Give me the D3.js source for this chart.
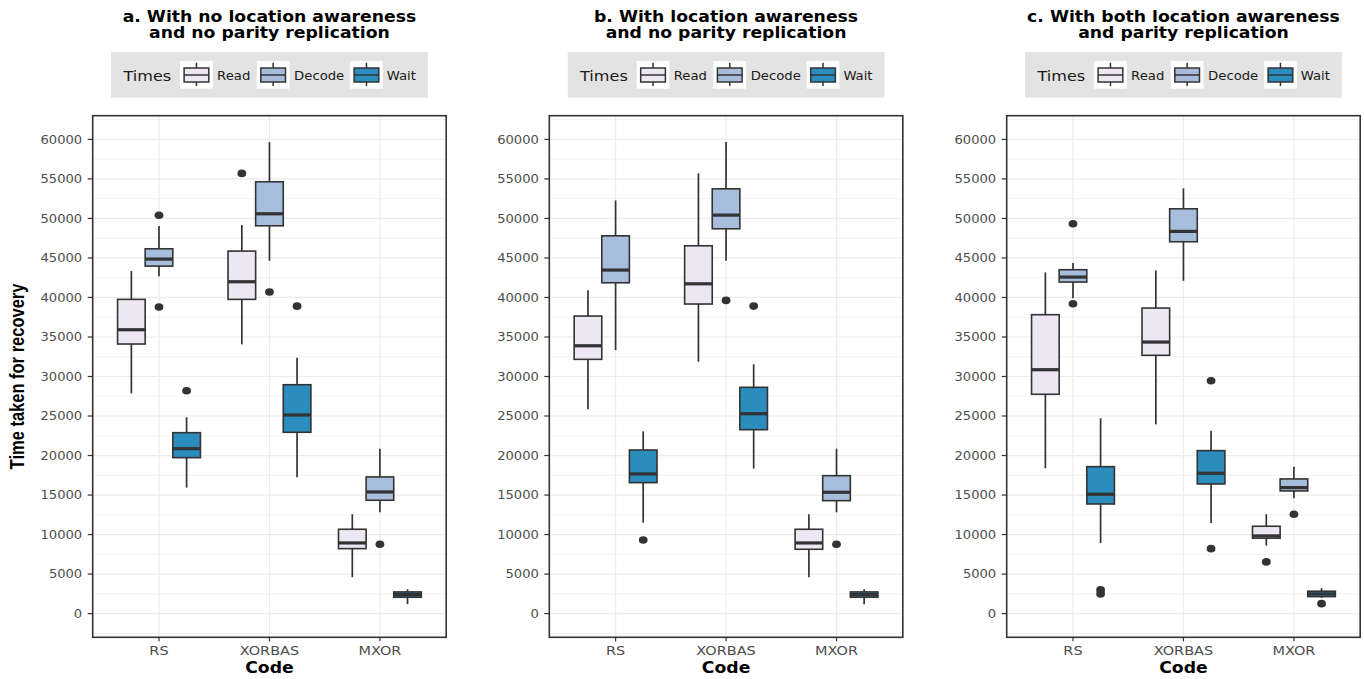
<!DOCTYPE html>
<html>
<head>
<meta charset="utf-8">
<script src="https://cdn.jsdelivr.net/npm/d3@7"></script>
<style>
  body { margin: 0; background: #fff; }
  text { font-family: "DejaVu Sans", sans-serif; }
</style>
</head>
<body>
<script>
// categories and series
var codes = ["RS", "XORBAS", "MXOR"];
var times = ["Read", "Decode", "Wait"];
var colors = ["#ece7f2", "#a6bddb", "#2b8cbe"];
var yTicks = [0, 5000, 10000, 15000, 20000, 25000, 30000, 35000, 40000, 45000, 50000, 55000, 60000];

var panelTitles = [
  ["a. With no location awareness", "and no parity replication"],
  ["b. With location awareness", "and no parity replication"],
  ["c. With both location awareness", "and parity replication"]
];

// box stats: [lower whisker, q1, median, q3, upper whisker]
// rows: RS Read, RS Decode, RS Wait, XORBAS Read, ..., MXOR Wait
var statsA = [
  [27870, 34110, 35920, 39760, 43340],
  [42670, 43970, 44860, 46160, 49030],
  [15940, 19730, 20870, 22890, 24840],
  [34070, 39760, 41990, 45870, 49160],
  [44650, 49070, 50590, 54640, 59660],
  [17250, 22940, 25130, 28960, 32380],
  [4600, 8220, 8940, 10670, 12570],
  [12820, 14340, 15390, 17290, 20870],
  [1190, 2070, 2400, 2740, 3080]
];
var statsB = [
  [25850, 32170, 33890, 37650, 40900],
  [33350, 41860, 43470, 47800, 52280],
  [11510, 16570, 17670, 20700, 23070],
  [31870, 39170, 41730, 46540, 55700],
  [44650, 48690, 50420, 53750, 59660],
  [18340, 23270, 25290, 28630, 31540],
  [4600, 8140, 8940, 10670, 12570],
  [12820, 14290, 15350, 17450, 20870],
  [1190, 2070, 2400, 2740, 3080]
];
var statsC = [
  [18390, 27750, 30860, 37820, 43170],
  [39890, 41950, 42580, 43510, 44350],
  [8940, 13870, 15100, 18590, 24710],
  [23950, 32680, 34360, 38660, 43430],
  [42110, 47050, 48360, 51220, 53800],
  [11470, 16400, 17760, 20620, 23150],
  [8600, 9540, 9830, 11050, 12570],
  [14590, 15520, 15940, 17040, 18590],
  [1990, 2150, 2490, 2830, 3210]
];

// outliers: [code index, time index, value]
var outliersA = [[0,1,50400],[0,1,38800],[0,2,28200],[1,0,55700],[1,1,40700],[1,2,38900],[2,1,8780]];
var outliersB = [[0,2,9320],[1,1,39630],[1,2,38910],[2,1,8780]];
var outliersC = [[0,1,49320],[0,1,39210],[0,2,3000],[0,2,2490],[1,2,29470],[1,2,8220],[2,0,6540],[2,1,12570],[2,2,1260]];

var allStats = [statsA, statsB, statsC];
var allOutliers = [outliersA, outliersB, outliersC];

var W = 1364, H = 679;
var panelLeft = [92.7, 549.3, 1006.7],
    panelW = 353.5,
    panelTop = 115.7,
    panelBottom = 637.3;
var SX = 1.15; // horizontal stretch of all text

var svg = d3.select("body").append("svg")
  .attr("width", W)
  .attr("height", H);

var y = d3.scaleLinear()
  .domain([-3000, 63000])
  .range([panelBottom, panelTop]);

function label(g, x, yy, str) {
  return g.append("text")
    .attr("transform", "translate(" + x + "," + yy + ") scale(" + SX + ",1)")
    .text(str);
}

// y axis title
svg.append("text")
  .attr("transform", "translate(24," + (panelTop + panelBottom) / 2 + ") rotate(-90) scale(1,1.2)")
  .attr("text-anchor", "middle")
  .style("font-family", "'Liberation Sans', sans-serif")
  .style("font-weight", "bold")
  .style("font-size", "16.5px")
  .attr("fill", "#000")
  .text("Time taken for recovery");

panelLeft.forEach(function(left, p) {
  var stats = allStats[p], outliers = allOutliers[p];
  var cx = left + panelW / 2;

  var x = d3.scaleLinear()
    .domain([0.4, 3.6])
    .range([left, left + panelW]);
  var bw = x(0.25) - x(0);

  var g = svg.append("g");

  // title
  panelTitles[p].forEach(function(line, i) {
    label(g, cx, 22 + i * 15.5, line)
      .attr("text-anchor", "middle")
      .style("font-weight", "bold")
      .style("font-size", "15px")
      .attr("fill", "#000");
  });

  // legend
  var legW = 316.7, legL = cx - legW / 2;
  var leg = g.append("g").attr("transform", "translate(" + legL + ",52)");
  leg.append("rect")
    .attr("width", legW).attr("height", 45.7)
    .attr("fill", "#e3e3e3");
  label(leg, 12.3, 28.7, "Times")
    .style("font-size", "14px")
    .attr("fill", "#1a1a1a");
  var keyX = [69, 145.7, 239], labX = [106, 183, 275.7];
  times.forEach(function(t, i) {
    var k = leg.append("g").attr("transform", "translate(" + keyX[i] + ",9)");
    k.append("rect").attr("width", 32.7).attr("height", 27.7).attr("fill", "#fff");
    k.append("line")
      .attr("x1", 16.35).attr("x2", 16.35).attr("y1", 1.7).attr("y2", 25)
      .attr("stroke", "#333").attr("stroke-width", 1.5);
    k.append("rect")
      .attr("x", 4).attr("y", 7).attr("width", 24.7).attr("height", 14)
      .attr("fill", colors[i]).attr("stroke", "#333").attr("stroke-width", 1.5);
    k.append("line")
      .attr("x1", 4).attr("x2", 28.7).attr("y1", 14).attr("y2", 14)
      .attr("stroke", "#333").attr("stroke-width", 1.5);
    label(leg, labX[i], 28.3, t)
      .style("font-size", "11.5px")
      .attr("fill", "#1a1a1a");
  });

  // grid
  var minor = d3.range(-2500, 63000, 5000);
  g.selectAll(".minor").data(minor).enter().append("line")
    .attr("x1", left).attr("x2", left + panelW)
    .attr("y1", function(d) { return y(d); })
    .attr("y2", function(d) { return y(d); })
    .attr("stroke", "#ebebeb").attr("stroke-width", 0.6);
  g.selectAll(".major").data(yTicks).enter().append("line")
    .attr("x1", left).attr("x2", left + panelW)
    .attr("y1", function(d) { return y(d); })
    .attr("y2", function(d) { return y(d); })
    .attr("stroke", "#ebebeb").attr("stroke-width", 1.2);
  g.selectAll(".vmajor").data(codes).enter().append("line")
    .attr("x1", function(d, i) { return x(i + 1); })
    .attr("x2", function(d, i) { return x(i + 1); })
    .attr("y1", panelTop).attr("y2", panelBottom)
    .attr("stroke", "#ebebeb").attr("stroke-width", 1.2);

  // boxes
  var boxes = [];
  stats.forEach(function(s, j) {
    boxes.push({ c: Math.floor(j / 3), t: j % 3, s: s });
  });
  var bg = g.selectAll(".box").data(boxes).enter().append("g");
  function bx(d) { return x(d.c + 1 + (d.t - 1) * 0.25); }
  bg.append("line")
    .attr("x1", bx).attr("x2", bx)
    .attr("y1", function(d) { return y(d.s[0]); })
    .attr("y2", function(d) { return y(d.s[4]); })
    .attr("stroke", "#333").attr("stroke-width", 1.7);
  bg.append("rect")
    .attr("x", function(d) { return bx(d) - bw / 2; })
    .attr("y", function(d) { return y(d.s[3]); })
    .attr("width", bw)
    .attr("height", function(d) { return y(d.s[1]) - y(d.s[3]); })
    .attr("fill", function(d) { return colors[d.t]; })
    .attr("stroke", "#333").attr("stroke-width", 1.6);
  bg.append("line")
    .attr("x1", function(d) { return bx(d) - bw / 2; })
    .attr("x2", function(d) { return bx(d) + bw / 2; })
    .attr("y1", function(d) { return y(d.s[2]); })
    .attr("y2", function(d) { return y(d.s[2]); })
    .attr("stroke", "#333").attr("stroke-width", 3.2);

  g.selectAll(".out").data(outliers).enter().append("ellipse")
    .attr("cx", function(d) { return x(d[0] + 1 + (d[1] - 1) * 0.25); })
    .attr("cy", function(d) { return y(d[2]); })
    .attr("rx", 4.4).attr("ry", 3.8)
    .attr("fill", "#333");

  // border
  g.append("rect")
    .attr("x", left).attr("y", panelTop)
    .attr("width", panelW).attr("height", panelBottom - panelTop)
    .attr("fill", "none").attr("stroke", "#333").attr("stroke-width", 1.6);

  // y axis ticks
  yTicks.forEach(function(v) {
    g.append("line")
      .attr("x1", left - 5).attr("x2", left)
      .attr("y1", y(v)).attr("y2", y(v))
      .attr("stroke", "#333").attr("stroke-width", 1.2);
    label(g, left - 10.5, y(v) + 4.1, v)
      .attr("text-anchor", "end")
      .style("font-size", "11.4px")
      .attr("fill", "#4d4d4d");
  });

  // x axis ticks
  codes.forEach(function(c, i) {
    g.append("line")
      .attr("x1", x(i + 1)).attr("x2", x(i + 1))
      .attr("y1", panelBottom).attr("y2", panelBottom + 4)
      .attr("stroke", "#333").attr("stroke-width", 1.2);
    label(g, x(i + 1), 654.5, c)
      .attr("text-anchor", "middle")
      .style("font-size", "12.6px")
      .attr("fill", "#4d4d4d");
  });

  label(g, cx, 672.7, "Code")
    .attr("text-anchor", "middle")
    .style("font-weight", "bold")
    .style("font-size", "15px")
    .attr("fill", "#000");
});
</script>
</body>
</html>
